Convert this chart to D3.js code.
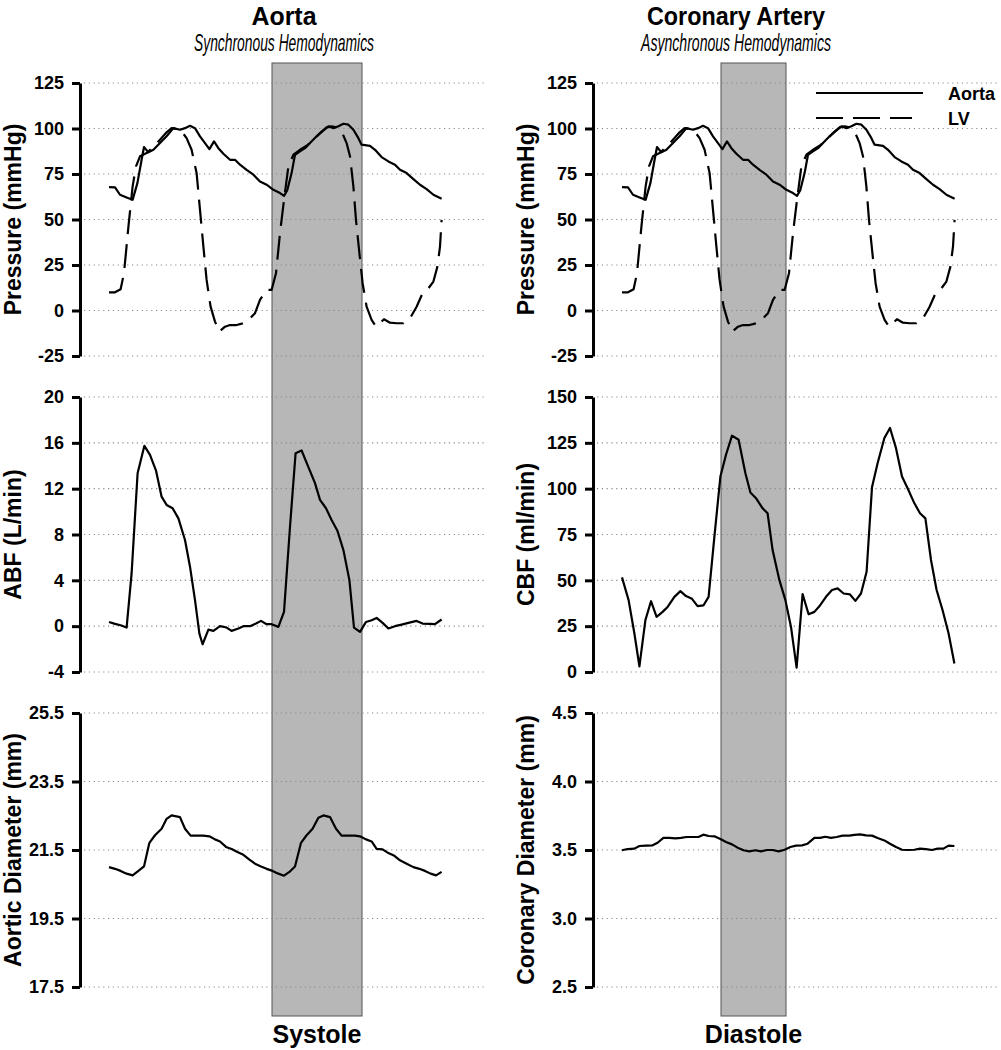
<!DOCTYPE html>
<html>
<head>
<meta charset="utf-8">
<script src="https://cdn.jsdelivr.net/npm/d3@7"></script>
<style>
  html, body { margin: 0; padding: 0; background: #fff; }
  svg { display: block; font-family: "Liberation Sans", Arial, Helvetica, sans-serif; }
</style>
</head>
<body>
<svg id="chart" width="1001" height="1050"></svg>
<script>
// ---------------- DATA (time in ms, values in units of each axis) ----------------
const aortaPressure = [[0,67.8],[30,67.6],[55,63.6],[88,62.1],[118,60.8],[142,70],[163,82.8],[175,89.8],[197,86.9],[222,88.3],[255,92.0],[288,95.7],[322,100.2],[355,99.3],[380,100.2],[405,101.5],[430,100.2],[455,95.7],[480,92.0],[502,88.7],[525,92.9],[547,89.2],[572,86.1],[605,82.8],[630,82.8],[655,80.1],[688,77.3],[722,74.6],[755,70.9],[788,69.1],[822,66.3],[855,64.5],[875,63.0],[892,66.3],[913,75.5],[930,85.6],[955,87.4],[980,89.2],[1005,92.0],[1038,95.7],[1072,99.0],[1097,101.2],[1122,100.2],[1147,101.2],[1172,102.6],[1197,102.1],[1222,99.3],[1247,94.7],[1263,91.1],[1305,90.5],[1330,88.3],[1363,84.3],[1397,81.9],[1430,80.1],[1455,77.3],[1488,75.5],[1522,72.2],[1555,69.1],[1588,66.7],[1622,63.6],[1663,61.4]];

const lvPressure = [[0,10],[30,10],[58,11.7],[75,20.5],[97,46],[118,68.1],[135,79.2],[155,84.7],[188,86.5],[222,89.8],[255,93.8],[288,97.9],[313,100.2],[338,99.7],[363,98.4],[388,94.7],[413,88.3],[438,75.5],[455,55.3],[472,35.1],[488,16.8],[508,2.1],[530,-6.1],[552,-11.6],[580,-8.9],[605,-8.0],[638,-8.0],[672,-7.0],[705,-4.3],[730,-1.5],[755,5.8],[788,11.3],[813,11.3],[835,20.5],[855,42.5],[875,60.8],[897,79.2],[922,85.6],[955,88.3],[988,90.5],[1022,93.8],[1055,97.5],[1088,100.6],[1113,101.2],[1138,100.6],[1163,98.4],[1188,92.0],[1205,84.7],[1222,68.1],[1235,49.7],[1252,31.5],[1268,15.0],[1288,2.1],[1313,-5.2],[1335,-8.9],[1355,-7.0],[1375,-4.8],[1405,-6.7],[1438,-7.0],[1472,-7.0],[1505,-4.3],[1538,2.1],[1568,9.5],[1597,12.2],[1622,15.9],[1642,24.1],[1655,35.1],[1663,49.8]];

const aorticFlow = [[0,0.37],[30,0.2],[58,0.08],[88,-0.12],[113,4.6],[143,13.35],[177,15.74],[205,14.95],[235,13.58],[263,11.3],[288,10.58],[318,10.29],[347,9.41],[380,7.52],[405,5.19],[430,2.27],[452,-0.65],[468,-1.58],[497,-0.3],[522,-0.41],[555,0.0],[588,-0.12],[613,-0.41],[647,-0.2],[672,0.0],[705,0.0],[735,0.23],[760,0.46],[788,0.17],[813,0.17],[847,-0.06],[875,1.25],[905,8.68],[933,15.1],[963,15.33],[997,13.88],[1030,12.48],[1055,11.02],[1085,10.29],[1113,9.27],[1142,8.33],[1172,6.64],[1202,4.02],[1225,-0.12],[1255,-0.5],[1285,0.37],[1313,0.52],[1338,0.72],[1368,0.29],[1397,-0.2],[1430,0.0],[1463,0.14],[1497,0.29],[1538,0.46],[1568,0.23],[1605,0.2],[1630,0.17],[1663,0.58]];

const coronaryFlow = [[0,51.6],[33,39.2],[62,21.0],[87,3.1],[117,28.3],[145,38.6],[173,30.1],[203,32.8],[228,35.5],[262,41.0],[292,44.1],[320,41.4],[350,39.9],[378,35.9],[407,36.3],[433,41.0],[462,73.8],[492,106.6],[520,118.5],[550,128.9],[583,126.7],[617,108.4],[642,97.9],[670,94.8],[703,89.3],[728,86.6],[753,66.5],[787,50.1],[817,39.2],[845,24.6],[873,2.4],[903,42.5],[933,31.5],[962,32.8],[990,36.3],[1020,41.0],[1050,44.7],[1078,45.6],[1108,42.8],[1140,42.3],[1167,38.8],[1195,42.8],[1223,54.7],[1250,100.8],[1278,113.9],[1312,127.6],[1340,133.1],[1370,122.1],[1400,106.6],[1428,100.2],[1462,92.0],[1490,86.6],[1517,83.8],[1545,61.1],[1573,44.7],[1603,33.7],[1633,21.0],[1662,4.6]];

const aorticDiameter = [[0,21.0],[30,20.95],[58,20.89],[88,20.81],[118,20.76],[147,20.89],[175,21.02],[202,21.71],[230,21.93],[263,22.12],[288,22.41],[313,22.51],[355,22.46],[380,22.12],[408,21.92],[438,21.92],[472,21.92],[502,21.9],[530,21.81],[555,21.75],[585,21.59],[613,21.53],[642,21.44],[672,21.36],[702,21.22],[730,21.1],[760,21.02],[788,20.95],[818,20.89],[847,20.81],[875,20.75],[902,20.86],[930,21.02],[960,21.71],[988,21.93],[1018,22.12],[1047,22.44],[1072,22.51],[1105,22.46],[1135,22.12],[1163,21.92],[1197,21.92],[1230,21.92],[1255,21.9],[1285,21.81],[1313,21.75],[1338,21.53],[1368,21.52],[1397,21.41],[1427,21.33],[1455,21.2],[1488,21.1],[1522,21.0],[1552,20.95],[1580,20.89],[1608,20.81],[1635,20.76],[1663,20.86]];

const coronaryDiameter = [[0,3.498],[28,3.507],[62,3.51],[87,3.529],[120,3.532],[153,3.534],[178,3.553],[207,3.588],[237,3.588],[267,3.585],[295,3.588],[323,3.595],[353,3.595],[382,3.595],[407,3.612],[433,3.602],[462,3.6],[492,3.58],[520,3.558],[550,3.541],[578,3.517],[608,3.498],[637,3.49],[667,3.498],[695,3.49],[725,3.5],[753,3.5],[783,3.49],[813,3.502],[842,3.522],[870,3.532],[900,3.534],[928,3.546],[962,3.588],[990,3.588],[1017,3.597],[1045,3.588],[1073,3.595],[1103,3.605],[1137,3.605],[1162,3.61],[1190,3.614],[1220,3.607],[1250,3.605],[1278,3.588],[1312,3.57],[1340,3.546],[1370,3.522],[1400,3.502],[1428,3.5],[1462,3.502],[1490,3.51],[1520,3.507],[1550,3.5],[1578,3.51],[1607,3.51],[1633,3.532],[1662,3.529]];

const systoleBand = [815, 1265];
const diastoleBand = [495, 820];

const pressureTicks = [-25, 0, 25, 50, 75, 100, 125];
const abfTicks = [-4, 0, 4, 8, 12, 16, 20];
const cbfTicks = [0, 25, 50, 75, 100, 125, 150];
const aorticDiamTicks = [17.5, 19.5, 21.5, 23.5, 25.5];
const coronaryDiamTicks = [2.5, 3.0, 3.5, 4.0, 4.5];

const columnTitles = ["Aorta", "Coronary Artery"];
const columnSubtitles = ["Synchronous Hemodynamics", "Asynchronous Hemodynamics"];
const phaseLabels = ["Systole", "Diastole"];
const legendLabels = ["Aorta", "LV"];

// ---------------- LAYOUT ----------------
const svg = d3.select("#chart");
const plotW = 407;
const colX = [80, 593];
const timeDomain = [-145, 1890];
const rowY = [[83, 356], [397, 672], [713, 987]];
const bandTop = 63, bandBottom = 1016;
const titleCenters = [284, 736];
const titleWidths = [65, 178];
const subtitleWidths = [180, 190];

const xScales = colX.map(x0 => d3.scaleLinear().domain(timeDomain).range([x0, x0 + plotW]));

const intFmt = d => String(d);
const decFmt = d => d.toFixed(1);

const panels = [
  { col: 0, row: 0, ticks: pressureTicks, fmt: intFmt, label: "Pressure (mmHg)", series: [{ data: aortaPressure }, { data: lvPressure, dashed: true }] },
  { col: 1, row: 0, ticks: pressureTicks, fmt: intFmt, label: "Pressure (mmHg)", series: [{ data: aortaPressure }, { data: lvPressure, dashed: true }] },
  { col: 0, row: 1, ticks: abfTicks, fmt: intFmt, label: "ABF (L/min)", series: [{ data: aorticFlow }] },
  { col: 1, row: 1, ticks: cbfTicks, fmt: intFmt, label: "CBF (ml/min)", series: [{ data: coronaryFlow }] },
  { col: 0, row: 2, ticks: aorticDiamTicks, fmt: decFmt, label: "Aortic Diameter (mm)", series: [{ data: aorticDiameter }] },
  { col: 1, row: 2, ticks: coronaryDiamTicks, fmt: decFmt, label: "Coronary Diameter (mm)", series: [{ data: coronaryDiameter }] }
];

// ---------------- BANDS ----------------
[systoleBand, diastoleBand].forEach((b, i) => {
  const xs = xScales[i];
  svg.append("rect")
    .attr("x", xs(b[0])).attr("y", bandTop)
    .attr("width", xs(b[1]) - xs(b[0])).attr("height", bandBottom - bandTop)
    .attr("fill", "#b7b7b7").attr("stroke", "#555").attr("stroke-width", 1);
  svg.append("text")
    .attr("x", (xs(b[0]) + xs(b[1])) / 2).attr("y", 1043)
    .attr("text-anchor", "middle").attr("font-weight", "bold").attr("font-size", 25)
    .text(phaseLabels[i]);
});

// ---------------- TITLES ----------------
titleCenters.forEach((cx, i) => {
  svg.append("text").attr("x", cx - titleWidths[i] / 2).attr("y", 25)
    .attr("font-weight", "bold").attr("font-size", 26)
    .attr("textLength", titleWidths[i]).attr("lengthAdjust", "spacingAndGlyphs")
    .text(columnTitles[i]);
  svg.append("text").attr("x", cx - subtitleWidths[i] / 2).attr("y", 51)
    .attr("font-style", "italic").attr("font-size", 24)
    .attr("textLength", subtitleWidths[i]).attr("lengthAdjust", "spacingAndGlyphs")
    .text(columnSubtitles[i]);
});

// ---------------- PANELS ----------------
panels.forEach(p => {
  const x0 = colX[p.col];
  const xs = xScales[p.col];
  const [yTop, yBot] = rowY[p.row];
  const ext = d3.extent(p.ticks);
  const ys = d3.scaleLinear().domain(ext).range([yBot, yTop]);
  const g = svg.append("g");

  // gridlines
  g.selectAll("line.grid").data(p.ticks).join("line")
    .attr("x1", x0 + 4).attr("x2", x0 + plotW)
    .attr("y1", d => ys(d)).attr("y2", d => ys(d))
    .attr("stroke", "#8a8a8a").attr("stroke-width", 1.1)
    .attr("stroke-dasharray", "1.2,3.6");

  // axis
  const axis = d3.axisLeft(ys).tickValues(p.ticks).tickFormat(p.fmt).tickSize(8).tickSizeOuter(0).tickPadding(8);
  const ag = g.append("g").attr("transform", `translate(${x0},0)`).call(axis);
  ag.select(".domain").attr("stroke", "#000").attr("stroke-width", 3);
  ag.selectAll(".tick line").attr("stroke", "#000").attr("stroke-width", 3);
  ag.selectAll(".tick text").attr("font-size", 18).attr("font-weight", "bold")
    .attr("font-family", "'Liberation Sans', Arial, sans-serif").attr("fill", "#000");

  // y label
  g.append("text")
    .attr("transform", `translate(${x0 - 59},${(yTop + yBot) / 2}) rotate(-90)`)
    .attr("text-anchor", "middle").attr("font-weight", "bold").attr("font-size", 23)
    .text(p.label);

  // series
  const line = d3.line().x(d => xs(d[0])).y(d => ys(d[1]));
  p.series.forEach(s => {
    g.append("path").datum(s.data).attr("d", line)
      .attr("fill", "none").attr("stroke", "#000").attr("stroke-width", 2.2)
      .attr("stroke-linejoin", "round")
      .attr("stroke-dasharray", s.dashed ? "24,10" : null);
  });
});

// ---------------- LEGEND ----------------
const legend = svg.append("g");
const legendItems = [{ label: legendLabels[0], dashed: false, y: 93 }, { label: legendLabels[1], dashed: true, y: 118 }];
legendItems.forEach(it => {
  legend.append("line").attr("x1", 816).attr("x2", it.dashed ? 912 : 923)
    .attr("y1", it.y).attr("y2", it.y)
    .attr("stroke", "#000").attr("stroke-width", 2.2)
    .attr("stroke-dasharray", it.dashed ? "27,10" : null);
  legend.append("text").attr("x", 948).attr("y", it.y + 6.5)
    .attr("font-weight", "bold").attr("font-size", 18).text(it.label);
});
</script>
</body>
</html>
